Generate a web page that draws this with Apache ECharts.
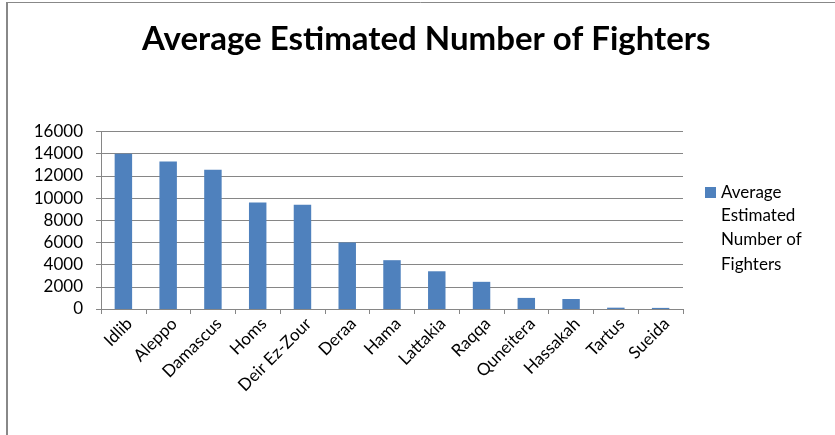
<!DOCTYPE html>
<html>
<head>
<meta charset="utf-8">
<script src="https://cdn.jsdelivr.net/npm/echarts@6/dist/echarts.min.js"></script>
<style>
  html, body { margin: 0; padding: 0; background: #fff; }
  #chart { width: 835px; height: 435px; }
</style>
</head>
<body>
<div id="chart"></div>
<script>
const provinces = ['Idlib', 'Aleppo', 'Damascus', 'Homs', 'Deir Ez-Zour', 'Deraa', 'Hama',
  'Lattakia', 'Raqqa', 'Quneitera', 'Hassakah', 'Tartus', 'Sueida'];
const fighters = [14000, 13300, 12550, 9600, 9400, 6000, 4400, 3400, 2450, 1000, 900, 120, 100];
const seriesName = 'Average Estimated Number of Fighters';
// legend label is wrapped over four lines in the original
const legendLines = ['Average', 'Estimated', 'Number of', 'Fighters'];
const yMin = 0;
const yMax = 16000;
const yStep = 2000;

const font = 'Lato, "Open Sans", sans-serif';
const gridColor = '#868686';

const chart = echarts.init(document.getElementById('chart'), null, { renderer: 'canvas' });

chart.setOption({
  animation: false,
  backgroundColor: '#fff',
  title: {
    text: seriesName,
    left: 137,
    top: 18,
    textStyle: { fontFamily: font, fontSize: 33, fontWeight: 'bold', color: '#000' }
  },
  legend: {
    left: 705,
    top: 184,
    padding: 0,
    itemWidth: 11,
    itemHeight: 11,
    itemGap: 0,
    icon: 'rect',
    formatter: () => legendLines[0],
    textStyle: { fontFamily: font, fontSize: 17, color: '#000' }
  },
  grid: { left: 101, right: 152, top: 131.5, bottom: 126 },
  xAxis: {
    type: 'category',
    data: provinces,
    axisLine: { lineStyle: { color: gridColor } },
    axisTick: { show: true, length: 5, lineStyle: { color: gridColor } },
    axisLabel: {
      interval: 0, rotate: 45, margin: 6, verticalAlign: 'top',
      fontFamily: font, fontSize: 17, color: '#000'
    }
  },
  yAxis: {
    type: 'value',
    min: yMin,
    max: yMax,
    interval: yStep,
    axisLine: { show: true, lineStyle: { color: gridColor } },
    axisTick: { show: true, length: 5, lineStyle: { color: gridColor } },
    splitLine: { lineStyle: { color: gridColor } },
    axisLabel: {
      margin: 18, fontFamily: font, fontSize: 17, color: '#000',
      formatter: (v) => String(v)
    }
  },
  series: [{
    name: seriesName,
    type: 'bar',
    data: fighters,
    barCategoryGap: '61%',
    itemStyle: { color: '#4F81BD' }
  }],
  graphic: [
    { type: 'line', shape: { x1: 7, y1: 2, x2: 7, y2: 435 }, style: { stroke: '#888', lineWidth: 2 } },
    { type: 'line', shape: { x1: 6, y1: 2.5, x2: 835, y2: 2.5 }, style: { stroke: '#888', lineWidth: 1 } },
    {
      type: 'text', left: 721, top: 203,
      style: {
        text: legendLines.slice(1).join('\n'),
        font: '17px ' + font, fill: '#000', lineHeight: 24.5
      }
    }
  ]
});
</script>
</body>
</html>
